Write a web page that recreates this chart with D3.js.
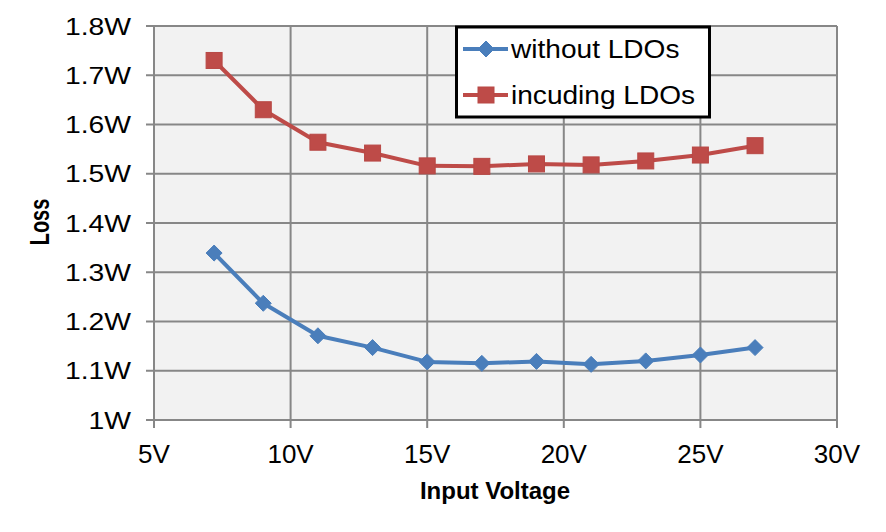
<!DOCTYPE html>
<html><head><meta charset="utf-8">
<script src="https://cdn.jsdelivr.net/npm/d3@7"></script>
<style>body{margin:0;background:#fff}svg{display:block}text{font-family:"Liberation Sans",Arial,sans-serif}</style>
</head><body>
<svg id="c" width="886" height="532"></svg>
<script>
const voltages = [7.2, 9, 11, 13, 15, 17, 19, 21, 23, 25, 27];
const withoutLDOs = [1.339, 1.237, 1.171, 1.147, 1.118, 1.115, 1.119, 1.113, 1.120, 1.132, 1.147];
const includingLDOs = [1.730, 1.630, 1.564, 1.542, 1.516, 1.515, 1.520, 1.518, 1.526, 1.538, 1.557];
const xTicks = [5, 10, 15, 20, 25, 30];
const yTicks = [1, 1.1, 1.2, 1.3, 1.4, 1.5, 1.6, 1.7, 1.8];
const seriesNames = ["without LDOs", "incuding LDOs"];

const svg = d3.select("#c");
const L = 154, R = 837, T = 26, B = 420;
const x = d3.scaleLinear().domain([5, 30]).range([L, R]);
const y = d3.scaleLinear().domain([1, 1.8]).range([B, T]);
const grid = "#878787";

svg.append("rect").attr("x", L).attr("y", T).attr("width", R - L).attr("height", B - T).attr("fill", "#f2f2f2");

// gridlines
svg.append("g").selectAll("line").data(yTicks).join("line")
  .attr("x1", L - 8).attr("x2", R).attr("y1", d => y(d)).attr("y2", d => y(d))
  .attr("stroke", grid).attr("stroke-width", 2);
svg.append("g").selectAll("line").data(xTicks).join("line")
  .attr("x1", d => x(d)).attr("x2", d => x(d)).attr("y1", T).attr("y2", B + 8)
  .attr("stroke", grid).attr("stroke-width", 2);

// y labels
svg.append("g").selectAll("text").data(yTicks).join("text")
  .attr("transform", d => `translate(131,${y(d)}) scale(1.18,1)`)
  .attr("dy", "0.36em").attr("text-anchor", "end")
  .attr("font-size", 24).attr("fill", "#000")
  .text(d => (d === 1 ? "1" : d.toFixed(1)) + "W");

// x labels
svg.append("g").selectAll("text").data(xTicks).join("text")
  .attr("x", d => x(d)).attr("y", 463).attr("text-anchor", "middle")
  .attr("font-size", 26).attr("fill", "#000")
  .text(d => d + "V");

// axis titles
svg.append("text").attr("x", 495).attr("y", 499).attr("text-anchor", "middle")
  .attr("font-size", 24).attr("font-weight", "bold").text("Input Voltage");
svg.append("text").attr("transform", "translate(49,222) scale(1.35,1) rotate(-90)")
  .attr("text-anchor", "middle").attr("font-size", 20).attr("font-weight", "bold").text("Loss");

const colors = ["#4a7ebb", "#be4b48"];
const data = [withoutLDOs, includingLDOs];
const line = d3.line().x((d, i) => x(voltages[i])).y(d => y(d));

data.forEach((vals, si) => {
  svg.append("path").datum(vals).attr("d", line).attr("fill", "none")
    .attr("stroke", colors[si]).attr("stroke-width", 4).attr("stroke-linejoin", "round");
  const g = svg.append("g");
  vals.forEach((v, i) => drawMarker(g, si, x(voltages[i]), y(v)));
});

function drawMarker(g, si, cx, cy) {
  if (si === 0) {
    const s = 8;
    g.append("path").attr("d", `M${cx},${cy - s}L${cx + s},${cy}L${cx},${cy + s}L${cx - s},${cy}Z`)
      .attr("fill", colors[0]).attr("stroke", colors[0]).attr("stroke-width", 1);
  } else {
    const s = 16;
    g.append("rect").attr("x", cx - s / 2).attr("y", cy - s / 2).attr("width", s).attr("height", s)
      .attr("fill", colors[1]).attr("stroke", "#b84845").attr("stroke-width", 1);
  }
}

// legend
const lg = svg.append("g");
lg.append("rect").attr("x", 456.5).attr("y", 27).attr("width", 253).attr("height", 90)
  .attr("fill", "#fff").attr("stroke", "#000").attr("stroke-width", 3);
const rows = [49, 95];
seriesNames.forEach((n, i) => {
  lg.append("line").attr("x1", 463).attr("x2", 508).attr("y1", rows[i]).attr("y2", rows[i])
    .attr("stroke", colors[i]).attr("stroke-width", 4);
  drawMarker(lg, i, 486, rows[i]);
  lg.append("text").attr("transform", `translate(511,${rows[i]}) scale(1.08,1)`).attr("dy", "0.36em")
    .attr("font-size", 26).attr("fill", "#000").text(n);
});
</script>
</body></html>
